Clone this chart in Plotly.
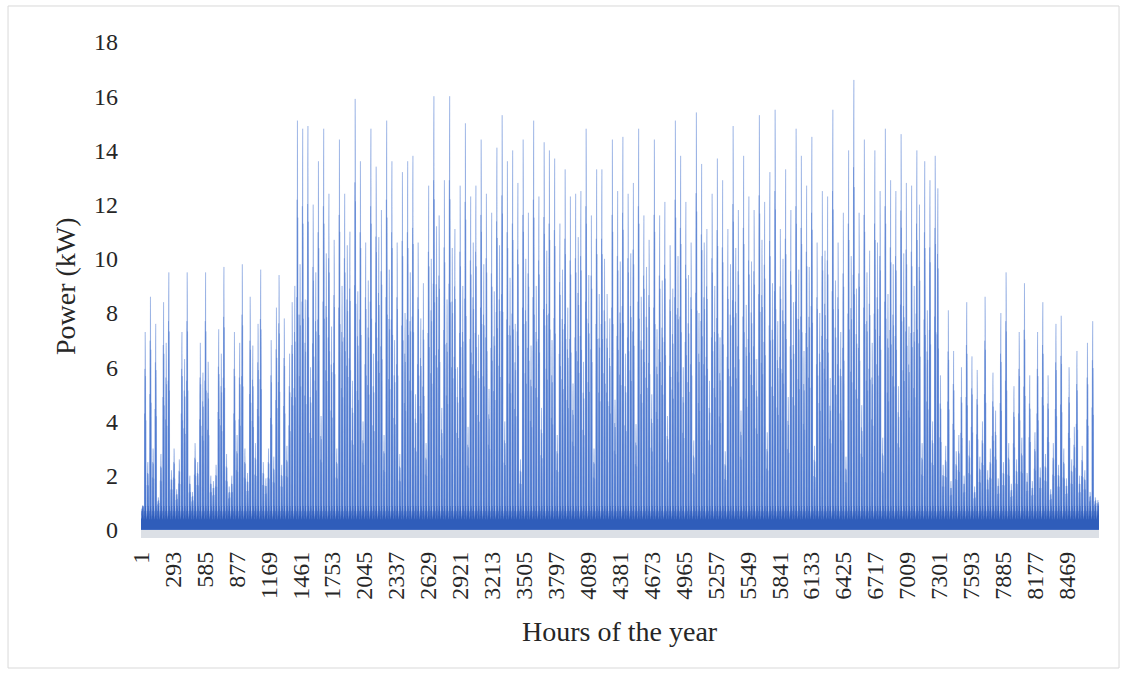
import plotly.graph_objects as go

# Daily peak demand (kW), day 1 .. day 365, in three seasonal blocks
winter_peak_kw = [
    0.9, 7.3, 2.5, 8.6, 3.0, 7.6, 1.2, 2.8, 8.4, 6.9,
    9.5, 2.2, 3.0, 1.5, 2.6, 7.3, 6.3, 9.5, 2.0, 1.4,
    3.2, 2.5, 6.9, 5.8, 9.5, 6.2, 2.0, 1.8, 2.4, 7.4,
    6.5, 9.7, 2.8, 1.6, 2.0, 7.3, 3.5, 6.9, 9.8, 3.0,
    2.1, 8.6, 6.8, 3.2, 7.6, 9.6, 2.5, 1.9, 3.0, 7.0,
    2.7, 8.2, 9.4, 2.4, 7.8, 3.1, 6.5, 8.4, 9.0,
]
summer_peak_kw = [
    15.1, 9.8, 14.8, 8.5, 14.9, 6.0, 12.0, 9.5, 13.6, 4.2,
    14.8, 10.2, 12.4, 7.5, 10.7, 3.0, 14.4, 9.0, 12.4, 10.5,
    11.0, 5.5, 15.9, 8.8, 13.6, 4.0, 10.6, 9.2, 14.8, 6.5,
    13.4, 10.8, 11.8, 3.5, 15.1, 9.6, 13.6, 7.0, 10.6, 2.8,
    13.2, 8.0, 13.6, 9.5, 13.8, 5.0, 10.6, 7.8, 9.1, 3.2,
    12.7, 10.0, 16.0, 11.2, 11.6, 4.5, 12.9, 8.5, 16.0, 10.4,
    11.1, 6.0, 12.7, 9.0, 15.0, 3.8, 12.3, 10.6, 12.7, 7.2,
    14.4, 9.8, 12.4, 5.2, 11.7, 8.8, 14.1, 10.5, 15.3, 4.0,
    13.6, 9.3, 14.0, 7.6, 12.8, 2.6, 14.4, 10.0,
    11.7, 6.8, 15.1, 9.0, 12.3, 4.5, 14.3, 10.3, 14.0, 7.0,
    13.7, 3.5, 11.3, 9.6, 13.3, 8.2, 12.3, 5.4, 12.4, 10.8,
    12.5, 6.2, 14.8, 9.4, 11.6, 3.0, 13.3, 8.7, 13.3, 10.0,
    8.7, 7.8, 14.4, 4.8, 12.5, 9.9, 14.5, 6.5, 12.4, 10.2,
    12.8, 3.9, 14.8, 8.6, 11.6, 9.7, 10.7, 5.0, 14.4, 7.4,
    11.6, 9.2,
    12.1, 4.2, 10.5, 8.9, 15.1, 10.1, 13.8, 6.0, 12.1, 9.4,
    10.6, 3.3, 15.4, 8.0, 13.5, 10.6, 11.1, 5.5, 12.4, 9.0,
    13.7, 7.1, 12.9, 2.9, 11.1, 9.8, 14.9, 10.4, 11.8, 4.4,
    13.8, 8.3, 12.3, 9.9, 11.8, 6.3, 15.3, 10.7, 12.1, 3.6,
    13.2, 9.1, 15.5, 7.7, 11.1, 10.0, 13.3, 4.9, 11.8, 8.4,
    14.8, 9.6, 13.8, 6.6,
    12.7, 9.7, 14.5, 3.1, 10.6, 8.0, 12.5, 10.3, 12.3, 5.6,
    15.5, 9.2, 10.6, 7.3, 11.7, 2.7, 14.0, 10.1, 16.6, 8.9,
    11.7, 4.6, 14.4, 9.5, 10.3, 6.9, 14.0, 10.6, 12.5, 3.4,
    14.8, 8.7, 12.9, 9.8, 12.5, 5.3, 14.6, 10.2, 12.8, 7.5,
    12.7, 9.0, 14.0, 12.0,
    3.2, 13.6, 8.1, 12.9, 4.0, 13.8, 12.6,
]
late_peak_kw = [
    5.7, 2.4, 3.1, 8.1, 1.8, 6.6, 2.9, 3.5, 6.0, 2.0,
    8.4, 3.3, 6.4, 1.6, 5.9, 2.7, 4.0, 8.6, 2.2, 3.0,
    5.8, 4.4, 1.9, 8.0, 2.5, 9.5, 3.2, 1.7, 5.3, 2.6,
    7.3, 3.4, 9.1, 2.1, 5.7, 1.8, 3.6, 7.3, 2.3, 8.4,
    2.8, 5.7, 1.5, 3.2, 7.6, 2.4, 7.9, 3.0, 1.9, 6.0,
    2.6, 3.8, 6.6, 2.0, 3.1, 2.2, 6.9, 1.4, 7.7, 1.2,
    1.1,
]

# Typical standby demand for each hour of the day (kW)
standby_kw = [0.45, 0.40, 0.38, 0.37, 0.38, 0.42, 0.55, 0.70, 0.62, 0.55, 0.50, 0.50,
              0.52, 0.50, 0.48, 0.52, 0.62, 0.78, 0.88, 0.85, 0.78, 0.68, 0.58, 0.50]
# Share of the daily peak reached in each hour of the day (on/off cycling load)
peak_share = [0.00, 0.00, 0.00, 0.00, 0.00, 0.00, 0.00, 0.00, 0.55, 0.00, 0.70, 0.80,
              0.00, 0.90, 1.00, 0.85, 0.00, 0.75, 0.60, 0.00, 0.50, 0.00, 0.00, 0.00]

tick_labels = ["1", "293", "585", "877", "1169", "1461", "1753", "2045", "2337", "2629",
               "2921", "3213", "3505", "3797", "4089", "4381", "4673", "4965", "5257", "5549",
               "5841", "6133", "6425", "6717", "7009", "7301", "7593", "7885", "8177", "8469"]

daily_peak = winter_peak_kw + summer_peak_kw + late_peak_kw

power = []
standby = []
for peak in daily_peak:
    for h in range(24):
        lift = max(peak - standby_kw[h], 0.0)
        power.append(round(standby_kw[h] + lift * peak_share[h], 3))
        standby.append(standby_kw[h])
hours = list(range(1, len(power) + 1))

SPIKE = "#4C78CE"
BASE = "#2F5DBA"
FONT = "Liberation Serif"
TXT = "#262626"

fig = go.Figure()
# hourly demand
fig.add_trace(go.Scatter(
    x=hours, y=power, mode="lines", fill="tozeroy",
    line=dict(color=SPIKE, width=0.3, simplify=False),
    fillcolor=SPIKE, hoverinfo="skip", showlegend=False,
))
# always-on standby part of the demand
fig.add_trace(go.Scatter(
    x=hours, y=standby, mode="lines", fill="tozeroy",
    line=dict(color=BASE, width=0.3, simplify=False),
    fillcolor=BASE, hoverinfo="skip", showlegend=False,
))

# pale band under the zero line
fig.add_shape(type="rect", xref="paper", yref="y", x0=0, x1=1, y0=-0.3, y1=0,
              fillcolor="#DCE0E6", line=dict(width=0), layer="below")
# chart-area frame
fig.add_shape(type="rect", xref="paper", yref="paper",
              x0=-0.1388, x1=1.0209, y0=-0.2621, y1=1.0726,
              line=dict(color="#D9D9D9", width=1), fillcolor="rgba(0,0,0,0)")

fig.add_annotation(text="Hours of the year", xref="paper", yref="paper",
                   x=0.5, y=-0.1895, xanchor="center", yanchor="middle",
                   showarrow=False, font=dict(family=FONT, size=28, color=TXT))
fig.add_annotation(text="Power (kW)", xref="paper", yref="paper",
                   x=-0.0793, y=0.508, xanchor="center", yanchor="middle",
                   textangle=-90, showarrow=False,
                   font=dict(family=FONT, size=28, color=TXT))

fig.update_layout(
    width=1128, height=677,
    margin=dict(l=141, r=29, t=42, b=139),
    paper_bgcolor="white", plot_bgcolor="white",
    xaxis=dict(
        range=[0.5, len(power) + 0.5],
        tickmode="array",
        tickvals=[int(t) for t in tick_labels],
        ticktext=tick_labels,
        tickangle=-90,
        ticks="", showgrid=False, zeroline=False, showline=False,
        ticklabelstandoff=8,
        tickfont=dict(family=FONT, size=24, color=TXT),
    ),
    yaxis=dict(
        range=[-0.3, 18],
        tickmode="array",
        tickvals=list(range(0, 19, 2)),
        ticks="", showgrid=False, zeroline=False, showline=False,
        ticklabelstandoff=22,
        tickfont=dict(family=FONT, size=24, color=TXT),
    ),
)

fig.write_html("out.html")
